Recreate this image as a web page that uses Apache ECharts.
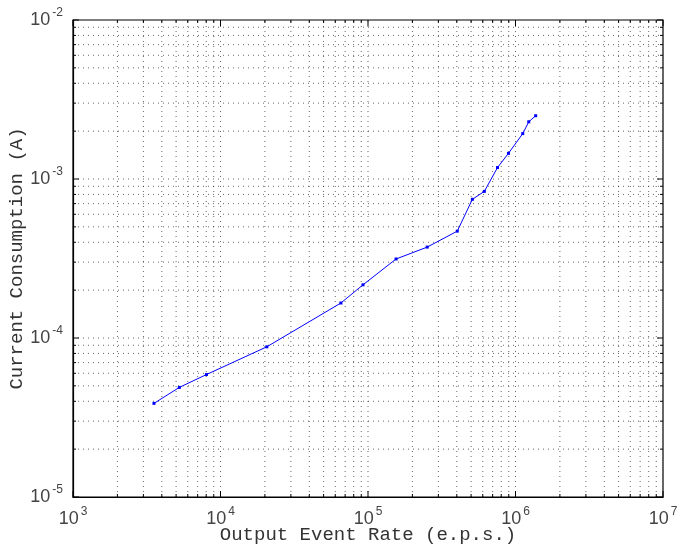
<!DOCTYPE html>
<html>
<head>
<meta charset="utf-8">
<script src="https://cdn.jsdelivr.net/npm/echarts@6/dist/echarts.min.js"></script>
<style>
  html, body { margin: 0; padding: 0; background: #fff; }
  #chart { width: 677px; height: 546px; }
</style>
</head>
<body>
<div id="chart"></div>
<script>
// values
const rate = [3540, 5260, 8030, 20600, 65500, 92500, 155000, 252000, 403000, 510000, 615000, 755000, 896000, 1120000, 1230000, 1370000];
const current = [3.88e-5, 4.89e-5, 5.89e-5, 8.8e-5, 1.66e-4, 2.16e-4, 3.14e-4, 3.73e-4, 4.7e-4, 7.45e-4, 8.36e-4, 1.18e-3, 1.45e-3, 1.93e-3, 2.29e-3, 2.5e-3];

const xDecades = [1e3, 1e4, 1e5, 1e6, 1e7];
const yDecades = [1e-5, 1e-4, 1e-3, 1e-2];
const minorSteps = [2, 3, 4, 5, 6, 7, 8, 9];

const xMin = xDecades[0], xMax = xDecades[xDecades.length - 1];
const yMin = yDecades[0], yMax = yDecades[yDecades.length - 1];

// grid/tick positions: [value, isMajor]
function gridValues(decades) {
  const out = [];
  decades.forEach((d, i) => {
    out.push([d, 1]);
    if (i < decades.length - 1) minorSteps.forEach(k => out.push([d * k, 0]));
  });
  return out;
}
const xGrid = gridValues(xDecades).map(g => [g[0], yMin, g[1]]);
const yGrid = gridValues(yDecades).map(g => [xMin, g[0], g[1]]);

const dotStyle = { stroke: '#000', lineWidth: 1, lineDash: [1, 4], opacity: 0.6 };
const tickStyle = { stroke: '#000', lineWidth: 1 };

function exp10(v) {
  const e = Math.round(Math.log10(v));
  return '{b|10}{s|' + e + '}';
}

const labelRich = {
  b: { fontFamily: 'Liberation Sans', fontSize: 18, color: '#444' },
  s: { fontFamily: 'Liberation Sans', fontSize: 12, color: '#444', padding: [0, 0, 14, 2] }
};

const chart = echarts.init(document.getElementById('chart'));
chart.setOption({
  animation: false,
  grid: {
    left: 73, right: 14, top: 20, bottom: 49,
    outerBoundsMode: 'none', containLabel: false,
    show: true, borderColor: '#000', borderWidth: 1.2
  },
  xAxis: {
    type: 'log', logBase: 10, min: xMin, max: xMax,
    name: 'Output Event Rate (e.p.s.)', nameLocation: 'middle', nameGap: 28,
    nameMoveOverlap: false,
    nameTextStyle: { fontFamily: 'Liberation Mono', fontSize: 19, color: '#333' },
    axisLine: { show: true, lineStyle: { color: '#000', width: 1.2 } },
    axisTick: { show: false },
    splitLine: { show: false },
    axisLabel: { formatter: exp10, rich: labelRich, margin: 9 }
  },
  yAxis: {
    type: 'log', logBase: 10, min: yMin, max: yMax,
    name: 'Current Consumption (A)', nameLocation: 'middle', nameGap: 47,
    nameMoveOverlap: false,
    nameTextStyle: { fontFamily: 'Liberation Mono', fontSize: 19, color: '#333' },
    axisLine: { show: true, lineStyle: { color: '#000', width: 1.2 } },
    axisTick: { show: false },
    splitLine: { show: false },
    axisLabel: { formatter: exp10, rich: labelRich, margin: 10 }
  },
  series: [
    {
      type: 'custom', silent: true, z: 1,
      data: xGrid, encode: { x: 0, y: 1 },
      renderItem: function (params, api) {
        const v = api.value(0);
        const major = api.value(2);
        const bot = api.coord([v, yMin]);
        const top = api.coord([v, yMax]);
        const len = major ? 6 : 3;
        const kids = [];
        if (v > xMin && v < xMax) {
          kids.push({ type: 'line', shape: { x1: bot[0], y1: bot[1], x2: top[0], y2: top[1] }, style: dotStyle });
        }
        kids.push({ type: 'line', shape: { x1: bot[0], y1: bot[1], x2: bot[0], y2: bot[1] - len }, style: tickStyle });
        kids.push({ type: 'line', shape: { x1: top[0], y1: top[1], x2: top[0], y2: top[1] + len }, style: tickStyle });
        return { type: 'group', children: kids };
      }
    },
    {
      type: 'custom', silent: true, z: 1,
      data: yGrid, encode: { x: 0, y: 1 },
      renderItem: function (params, api) {
        const v = api.value(1);
        const major = api.value(2);
        const l = api.coord([xMin, v]);
        const r = api.coord([xMax, v]);
        const len = major ? 6 : 3;
        const kids = [];
        if (v > yMin * 1.001 && v < yMax * 0.999) {
          kids.push({ type: 'line', shape: { x1: l[0], y1: l[1], x2: r[0], y2: r[1] }, style: dotStyle });
        }
        kids.push({ type: 'line', shape: { x1: l[0], y1: l[1], x2: l[0] + len, y2: l[1] }, style: tickStyle });
        kids.push({ type: 'line', shape: { x1: r[0], y1: r[1], x2: r[0] - len, y2: r[1] }, style: tickStyle });
        return { type: 'group', children: kids };
      }
    },
    {
      type: 'line', z: 5,
      data: rate.map((x, i) => [x, current[i]]),
      symbol: 'rect', symbolSize: 3, showSymbol: true,
      lineStyle: { color: '#0000ff', width: 1 },
      itemStyle: { color: '#0000ff' }
    }
  ]
});
</script>
</body>
</html>
